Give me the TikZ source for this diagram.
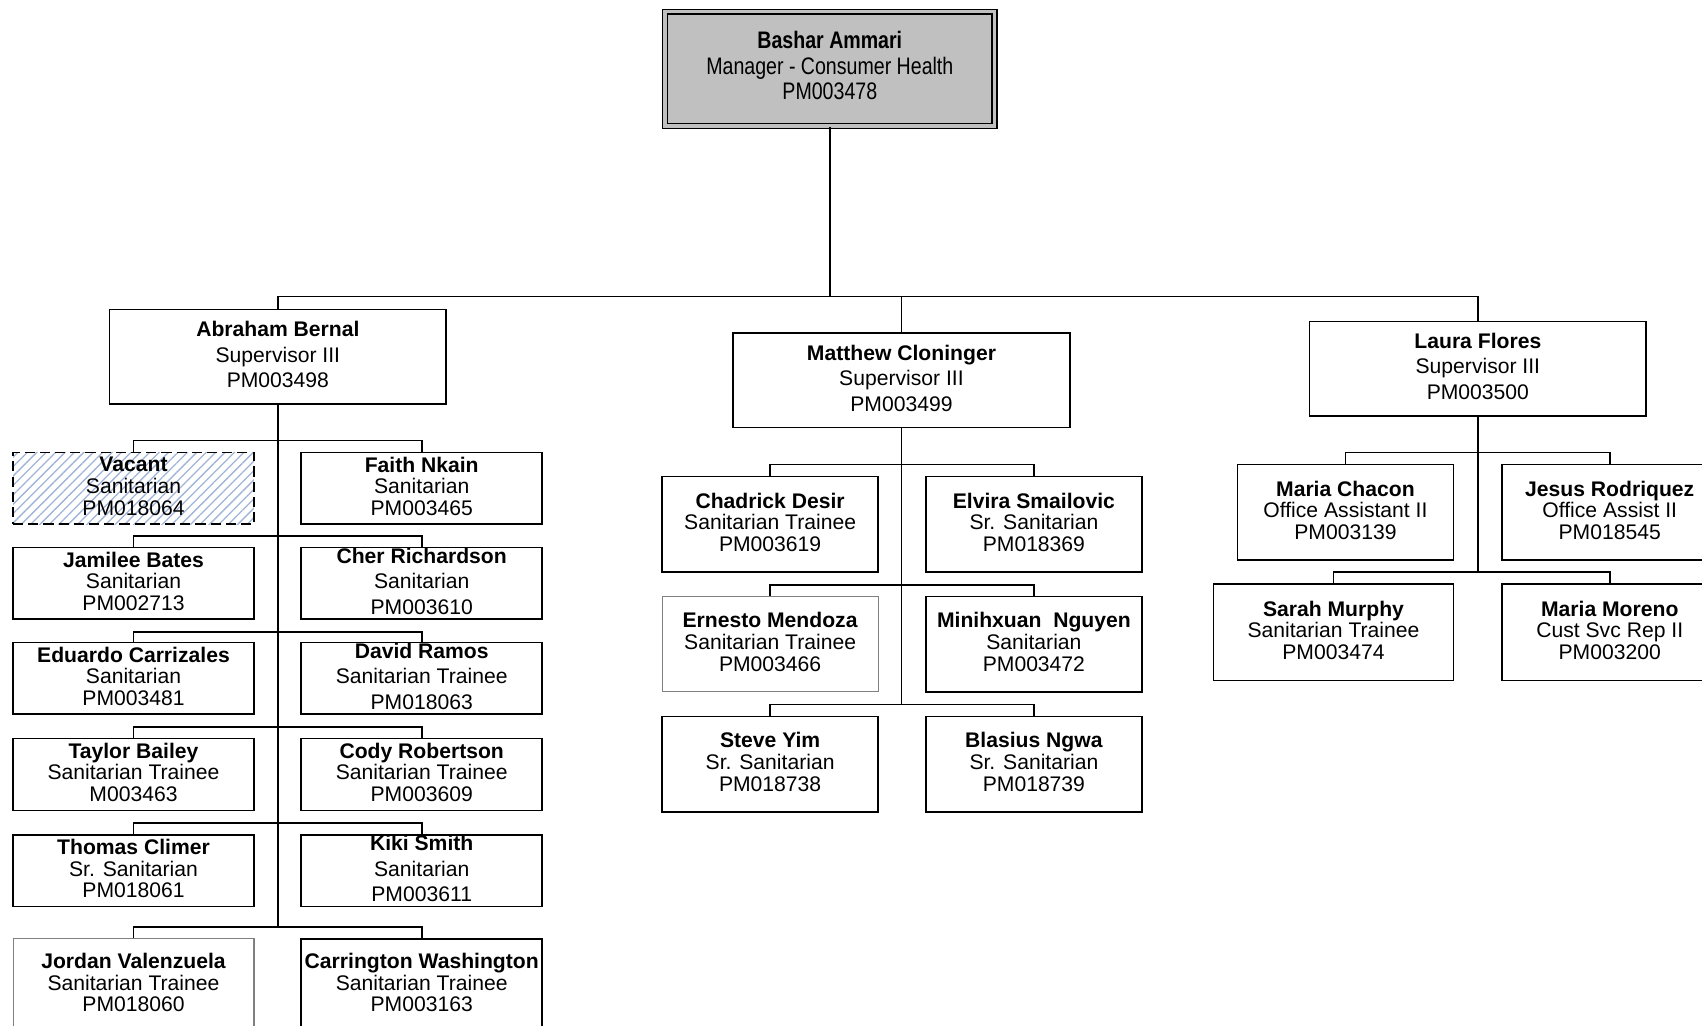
\documentclass[tikz,border=0pt]{standalone}
\usepackage{fontspec}
\setmainfont{Liberation Sans}
\newfontfamily\narrowfont[FakeStretch=0.82]{Liberation Sans}
\usetikzlibrary{patterns.meta}
\definecolor{topgray}{RGB}{192,192,192}
\definecolor{hatch}{RGB}{160,180,215}
\definecolor{faintc}{RGB}{128,128,128}
\begin{document}
\begin{tikzpicture}[x=0.75pt,y=-0.75pt,
  base/.style={draw, line width=1.1pt, align=center, inner sep=0pt,
    font=\fontsize{14.6pt}{15pt}\selectfont,
    execute at end node={\rule[-3pt]{0pt}{3pt}}},
  lbox/.style={base, minimum width=166.5pt, minimum height=49.5pt},
  mbox/.style={base, minimum width=149.25pt, minimum height=66pt},
  sbox/.style={base, minimum width=232.5pt, minimum height=65.25pt,
    font=\fontsize{14.6pt}{17.6pt}\selectfont},
  widesp/.style={font=\fontsize{14.6pt}{17.6pt}\selectfont},
  faint/.style={draw=faintc, line width=0.7pt},
  topbox/.style={draw, line width=0.9pt, double=topgray, double distance=2.4pt,
    fill=topgray, minimum width=227.5pt, minimum height=79pt, align=center,
    inner sep=0pt, font=\narrowfont\fontsize{16.5pt}{17.6pt}\selectfont,
    execute at end node={\rule[-4.5pt]{0pt}{4.5pt}}},
  vacbox/.style={lbox, dash pattern=on 7pt off 3.5pt,
    pattern={Lines[angle=45,distance=4.6pt,line width=0.9pt]}, pattern color=hatch},
  conn/.style={line width=1.1pt}]
\useasboundingbox (0,0) rectangle (1568,945);
\clip (0,0) rectangle (1568,945);

% top
\node[topbox] (top) at (764.5,63.5) {\textbf{Bashar Ammari}\\Manager - Consumer Health\\PM003478};

% supervisors
\node[sbox] (abr) at (256,328.5) {\textbf{Abraham Bernal}\\Supervisor III\\PM003498};
\node[sbox] (mat) at (830.5,350.5) {\textbf{Matthew Cloninger}\\Supervisor III\\PM003499};
\node[sbox] (lau) at (1361.5,339.5) {\textbf{Laura Flores}\\Supervisor III\\PM003500};

% left column
\node[vacbox] (vac) at (123,450) {\textbf{Vacant}\\Sanitarian\\PM018064};
\node[lbox] (fai) at (388.5,450) {\textbf{Faith Nkain}\\Sanitarian\\PM003465};
\node[lbox] (jam) at (123,537.5) {\textbf{Jamilee Bates}\\Sanitarian\\PM002713};
\node[lbox,widesp] (che) at (388.5,537.5) {\textbf{Cher Richardson}\\Sanitarian\\PM003610};
\node[lbox] (edu) at (123,625) {\textbf{Eduardo Carrizales}\\Sanitarian\\PM003481};
\node[lbox,widesp] (dav) at (388.5,625) {\textbf{David Ramos}\\Sanitarian Trainee\\PM018063};
\node[lbox] (tay) at (123,713.5) {\textbf{Taylor Bailey}\\Sanitarian Trainee\\M003463};
\node[lbox] (cod) at (388.5,713.5) {\textbf{Cody Robertson}\\Sanitarian Trainee\\PM003609};
\node[lbox] (tho) at (123,802) {\textbf{Thomas Climer}\\Sr. Sanitarian\\PM018061};
\node[lbox,widesp] (kik) at (388.5,802) {\textbf{Kiki Smith}\\Sanitarian\\PM003611};
\node[lbox,faint,minimum height=63pt] (jor) at (123,907) {\textbf{Jordan Valenzuela}\\Sanitarian Trainee\\PM018060};
\node[lbox,minimum height=63pt] (car) at (388.5,907) {\textbf{Carrington Washington}\\Sanitarian Trainee\\PM003163};

% middle column
\node[mbox] (cha) at (709.5,483) {\textbf{Chadrick Desir}\\Sanitarian Trainee\\PM003619};
\node[mbox] (elv) at (952.5,483) {\textbf{Elvira Smailovic}\\Sr. Sanitarian\\PM018369};
\node[mbox,faint] (ern) at (709.5,593.5) {\textbf{Ernesto Mendoza}\\Sanitarian Trainee\\PM003466};
\node[mbox] (min) at (952.5,593.5) {\textbf{Minihxuan\ \ Nguyen}\\Sanitarian\\PM003472};
\node[mbox] (ste) at (709.5,704) {\textbf{Steve Yim}\\Sr. Sanitarian\\PM018738};
\node[mbox] (bla) at (952.5,704) {\textbf{Blasius Ngwa}\\Sr. Sanitarian\\PM018739};

% right column
\node[mbox] (mch) at (1239.5,472) {\textbf{Maria Chacon}\\Office Assistant II\\PM003139};
\node[mbox] (jes) at (1483,472) {\textbf{Jesus Rodriquez}\\Office Assist II\\PM018545};
\node[mbox,minimum width=165.75pt,minimum height=66.75pt] (sar) at (1228.5,582.5) {\textbf{Sarah Murphy}\\Sanitarian Trainee\\PM003474};
\node[mbox,minimum height=66.75pt] (mor) at (1483,582.5) {\textbf{Maria Moreno}\\Cust Svc Rep II\\PM003200};

% bus coordinates
\coordinate (b0) at (764.5,273);
\coordinate (l1) at (256,406);
\coordinate (l2) at (256,494);
\coordinate (l3) at (256,582);
\coordinate (l4) at (256,670);
\coordinate (l5) at (256,758);
\coordinate (l6) at (256,854);
\coordinate (m1) at (830.5,428);
\coordinate (m2) at (830.5,539);
\coordinate (m3) at (830.5,649);
\coordinate (r1) at (1361.5,417);
\coordinate (r2) at (1361.5,527);

% connectors
\draw[conn] (top.south) -- (b0);
\draw[conn] (abr.north) |- (b0) -| (lau.north);
\draw[conn] (b0) -| (mat.north);

\draw[conn] (abr.south) -- (l6);
\draw[conn] (vac.north) |- (l1) -| (fai.north);
\draw[conn] (jam.north) |- (l2) -| (che.north);
\draw[conn] (edu.north) |- (l3) -| (dav.north);
\draw[conn] (tay.north) |- (l4) -| (cod.north);
\draw[conn] (tho.north) |- (l5) -| (kik.north);
\draw[conn] (jor.north) |- (l6) -| (car.north);

\draw[conn] (mat.south) -- (m3);
\draw[conn] (cha.north) |- (m1) -| (elv.north);
\draw[conn] (ern.north) |- (m2) -| (min.north);
\draw[conn] (ste.north) |- (m3) -| (bla.north);

\draw[conn] (lau.south) -- (r2);
\draw[conn] (mch.north) |- (r1) -| (jes.north);
\draw[conn] (sar.north) |- (r2) -| (mor.north);
\end{tikzpicture}
\end{document}
